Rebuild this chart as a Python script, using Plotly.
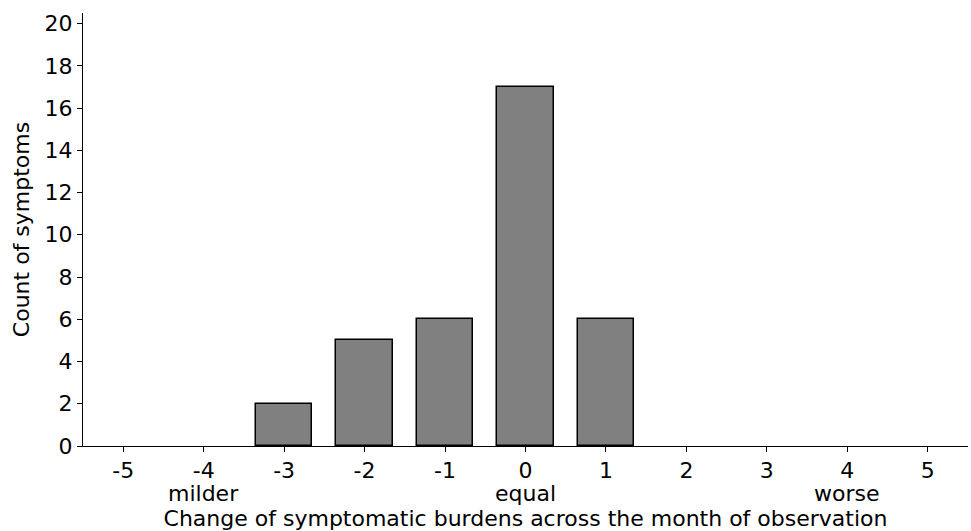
import plotly.graph_objects as go

change = [-5, -4, -3, -2, -1, 0, 1, 2, 3, 4, 5]
counts = [0, 0, 2, 5, 6, 17, 6, 0, 0, 0, 0]
tick_labels = ["-5", "-4", "-3", "-2", "-1", "0", "1", "2", "3", "4", "5"]
side_labels = ["milder", "equal", "worse"]
side_positions = [-4, 0, 4]
y_ticks = list(range(0, 21, 2))

font = "DejaVu Sans"
fs = 22

fig = go.Figure(
    go.Bar(
        x=change,
        y=counts,
        width=0.7,
        marker=dict(
            color="#808080",
            line=dict(color="black", width=[1.5 if c > 0 else 0 for c in counts]),
        ),
    )
)

for lab, pos in zip(side_labels, side_positions):
    fig.add_annotation(
        x=pos, y=0, xref="x", yref="paper", text=lab, showarrow=False,
        yanchor="middle", yshift=-47, font=dict(family=font, size=fs, color="black"),
    )

fig.update_layout(
    width=971,
    height=531,
    margin=dict(l=83, r=3, t=13, b=85),
    plot_bgcolor="white",
    paper_bgcolor="white",
    font=dict(family=font, size=fs, color="black"),
    showlegend=False,
    bargap=0,
)

fig.update_xaxes(
    range=[-5.5, 5.5],
    tickmode="array",
    tickvals=change,
    ticktext=tick_labels,
    showgrid=False,
    zeroline=False,
    showline=True,
    linecolor="black",
    linewidth=1,
    ticks="outside",
    ticklen=5,
    tickwidth=1,
    tickcolor="black",
    automargin=False,
    title=dict(text="Change of symptomatic burdens across the month of observation", standoff=33, font=dict(size=fs)),
)

fig.update_yaxes(
    range=[0, 20.5],
    tickmode="array",
    tickvals=y_ticks,
    showgrid=False,
    zeroline=False,
    showline=True,
    linecolor="black",
    linewidth=1,
    ticks="outside",
    ticklen=5,
    tickwidth=1,
    tickcolor="black",
    automargin=False,
    title=dict(text="Count of symptoms", standoff=8, font=dict(size=fs)),
)

fig.write_html(
    "out.html",
    config={"displayModeBar": False},
    post_script="document.body.style.margin='0';",
)
